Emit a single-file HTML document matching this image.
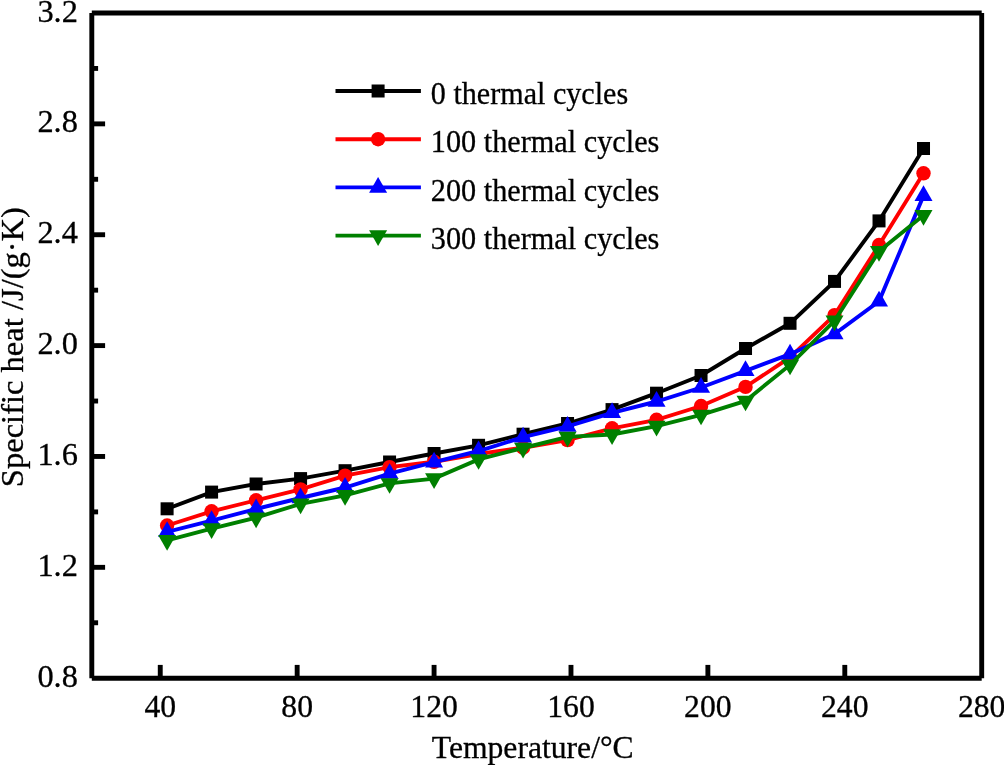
<!DOCTYPE html>
<html><head><meta charset="utf-8"><style>
html,body{margin:0;padding:0;background:#fff;}
body{width:1004px;height:765px;overflow:hidden;font-family:"Liberation Serif",serif;}
svg{display:block;will-change:transform;}
text{stroke:#000;stroke-width:0.3px;}
</style></head><body>
<svg width="1004" height="765" viewBox="0 0 1004 765">
<rect width="1004" height="765" fill="#fff"/>
<g stroke="#000" stroke-width="4.9" fill="none"><line x1="91.8" y1="13.0" x2="91.8" y2="678.2"/><line x1="91.8" y1="678.2" x2="981.7" y2="678.2"/><line x1="981.7" y1="678.2" x2="981.7" y2="13.0"/><line x1="981.7" y1="13.0" x2="91.8" y2="13.0"/></g><g stroke="#000" stroke-width="4.9"><line x1="160.25" y1="678.2" x2="160.25" y2="664.9"/><line x1="297.16" y1="678.2" x2="297.16" y2="664.9"/><line x1="434.07" y1="678.2" x2="434.07" y2="664.9"/><line x1="570.98" y1="678.2" x2="570.98" y2="664.9"/><line x1="707.88" y1="678.2" x2="707.88" y2="664.9"/><line x1="844.79" y1="678.2" x2="844.79" y2="664.9"/><line x1="91.8" y1="622.77" x2="98.1" y2="622.77"/><line x1="91.8" y1="567.33" x2="105.1" y2="567.33"/><line x1="91.8" y1="511.9" x2="98.1" y2="511.9"/><line x1="91.8" y1="456.47" x2="105.1" y2="456.47"/><line x1="91.8" y1="401.03" x2="98.1" y2="401.03"/><line x1="91.8" y1="345.6" x2="105.1" y2="345.6"/><line x1="91.8" y1="290.17" x2="98.1" y2="290.17"/><line x1="91.8" y1="234.73" x2="105.1" y2="234.73"/><line x1="91.8" y1="179.3" x2="98.1" y2="179.3"/><line x1="91.8" y1="123.87" x2="105.1" y2="123.87"/><line x1="91.8" y1="68.43" x2="98.1" y2="68.43"/></g><g font-family="Liberation Serif" font-size="31.7" fill="#000"><text x="77.9" y="686.8" text-anchor="end" font-size="32.4">0.8</text><text x="77.9" y="575.93" text-anchor="end" font-size="32.4">1.2</text><text x="77.9" y="465.07" text-anchor="end" font-size="32.4">1.6</text><text x="77.9" y="354.2" text-anchor="end" font-size="32.4">2.0</text><text x="77.9" y="243.33" text-anchor="end" font-size="32.4">2.4</text><text x="77.9" y="132.47" text-anchor="end" font-size="32.4">2.8</text><text x="77.9" y="21.6" text-anchor="end" font-size="32.4">3.2</text><text x="160.25" y="716.8" text-anchor="middle">40</text><text x="297.16" y="716.8" text-anchor="middle">80</text><text x="434.07" y="716.8" text-anchor="middle">120</text><text x="570.98" y="716.8" text-anchor="middle">160</text><text x="707.88" y="716.8" text-anchor="middle">200</text><text x="844.79" y="716.8" text-anchor="middle">240</text><text x="981.7" y="716.8" text-anchor="middle">280</text></g><text x="431.8" y="758" textLength="201.9" lengthAdjust="spacingAndGlyphs" font-family="Liberation Serif" font-size="31.7">Temperature/°C</text><text transform="translate(23 487.15) rotate(-90)" x="0" y="0" textLength="280.1" lengthAdjust="spacingAndGlyphs" font-family="Liberation Serif" font-size="31.7">Specific heat /J/(g·K)</text><g><polyline points="167.1,508.8 211.59,492.1 256.09,484 300.58,478.6 345.08,470.7 389.57,462 434.07,453.5 478.56,445.3 523.06,434.2 567.55,423.5 612.05,409.6 656.54,393.2 701.04,375.5 745.53,348.5 790.03,323.3 834.52,281.4 879.02,220.9 923.51,148.5" fill="none" stroke="#000000" stroke-width="3.9" stroke-linejoin="miter"/><rect x="160.6" y="502.3" width="13" height="13" fill="#000000"/><rect x="205.09" y="485.6" width="13" height="13" fill="#000000"/><rect x="249.59" y="477.5" width="13" height="13" fill="#000000"/><rect x="294.08" y="472.1" width="13" height="13" fill="#000000"/><rect x="338.58" y="464.2" width="13" height="13" fill="#000000"/><rect x="383.07" y="455.5" width="13" height="13" fill="#000000"/><rect x="427.57" y="447" width="13" height="13" fill="#000000"/><rect x="472.06" y="438.8" width="13" height="13" fill="#000000"/><rect x="516.56" y="427.7" width="13" height="13" fill="#000000"/><rect x="561.05" y="417" width="13" height="13" fill="#000000"/><rect x="605.55" y="403.1" width="13" height="13" fill="#000000"/><rect x="650.04" y="386.7" width="13" height="13" fill="#000000"/><rect x="694.54" y="369" width="13" height="13" fill="#000000"/><rect x="739.03" y="342" width="13" height="13" fill="#000000"/><rect x="783.53" y="316.8" width="13" height="13" fill="#000000"/><rect x="828.02" y="274.9" width="13" height="13" fill="#000000"/><rect x="872.52" y="214.4" width="13" height="13" fill="#000000"/><rect x="917.01" y="142" width="13" height="13" fill="#000000"/></g><g><polyline points="167.1,525.5 211.59,511.3 256.09,500.3 300.58,489.4 345.08,475.6 389.57,467.1 434.07,461.8 478.56,454 523.06,447.7 567.55,440.1 612.05,428.3 656.54,419.8 701.04,406 745.53,386.9 790.03,357.5 834.52,315.1 879.02,245 923.51,173.3" fill="none" stroke="#ff0000" stroke-width="3.9" stroke-linejoin="miter"/><circle cx="167.1" cy="525.5" r="7.2" fill="#ff0000"/><circle cx="211.59" cy="511.3" r="7.2" fill="#ff0000"/><circle cx="256.09" cy="500.3" r="7.2" fill="#ff0000"/><circle cx="300.58" cy="489.4" r="7.2" fill="#ff0000"/><circle cx="345.08" cy="475.6" r="7.2" fill="#ff0000"/><circle cx="389.57" cy="467.1" r="7.2" fill="#ff0000"/><circle cx="434.07" cy="461.8" r="7.2" fill="#ff0000"/><circle cx="478.56" cy="454" r="7.2" fill="#ff0000"/><circle cx="523.06" cy="447.7" r="7.2" fill="#ff0000"/><circle cx="567.55" cy="440.1" r="7.2" fill="#ff0000"/><circle cx="612.05" cy="428.3" r="7.2" fill="#ff0000"/><circle cx="656.54" cy="419.8" r="7.2" fill="#ff0000"/><circle cx="701.04" cy="406" r="7.2" fill="#ff0000"/><circle cx="745.53" cy="386.9" r="7.2" fill="#ff0000"/><circle cx="790.03" cy="357.5" r="7.2" fill="#ff0000"/><circle cx="834.52" cy="315.1" r="7.2" fill="#ff0000"/><circle cx="879.02" cy="245" r="7.2" fill="#ff0000"/><circle cx="923.51" cy="173.3" r="7.2" fill="#ff0000"/></g><g><polyline points="167.1,531.8 211.59,520.6 256.09,509 300.58,498 345.08,487.5 389.57,473.6 434.07,462.2 478.56,451 523.06,437.2 567.55,426.4 612.05,412.8 656.54,401.5 701.04,387.5 745.53,370.8 790.03,354.2 834.52,334 879.02,301.2 923.51,195.7" fill="none" stroke="#0000ff" stroke-width="3.9" stroke-linejoin="miter"/><path d="M167.1 521.33L176.1 537.03L158.1 537.03Z" fill="#0000ff"/><path d="M211.59 510.13L220.59 525.83L202.59 525.83Z" fill="#0000ff"/><path d="M256.09 498.53L265.09 514.23L247.09 514.23Z" fill="#0000ff"/><path d="M300.58 487.53L309.58 503.23L291.58 503.23Z" fill="#0000ff"/><path d="M345.08 477.03L354.08 492.73L336.08 492.73Z" fill="#0000ff"/><path d="M389.57 463.13L398.57 478.83L380.57 478.83Z" fill="#0000ff"/><path d="M434.07 451.73L443.07 467.43L425.07 467.43Z" fill="#0000ff"/><path d="M478.56 440.53L487.56 456.23L469.56 456.23Z" fill="#0000ff"/><path d="M523.06 426.73L532.06 442.43L514.06 442.43Z" fill="#0000ff"/><path d="M567.55 415.93L576.55 431.63L558.55 431.63Z" fill="#0000ff"/><path d="M612.05 402.33L621.05 418.03L603.05 418.03Z" fill="#0000ff"/><path d="M656.54 391.03L665.54 406.73L647.54 406.73Z" fill="#0000ff"/><path d="M701.04 377.03L710.04 392.73L692.04 392.73Z" fill="#0000ff"/><path d="M745.53 360.33L754.53 376.03L736.53 376.03Z" fill="#0000ff"/><path d="M790.03 343.73L799.03 359.43L781.03 359.43Z" fill="#0000ff"/><path d="M834.52 323.53L843.52 339.23L825.52 339.23Z" fill="#0000ff"/><path d="M879.02 290.73L888.02 306.43L870.02 306.43Z" fill="#0000ff"/><path d="M923.51 185.23L932.51 200.93L914.51 200.93Z" fill="#0000ff"/></g><g><polyline points="167.1,540.3 211.59,528.6 256.09,517.7 300.58,503.8 345.08,495.3 389.57,483.4 434.07,478.6 478.56,459.4 523.06,448 567.55,436.9 612.05,434.5 656.54,426.1 701.04,414.9 745.53,400.9 790.03,364.9 834.52,320.8 879.02,251.3 923.51,215.3" fill="none" stroke="#008000" stroke-width="3.9" stroke-linejoin="miter"/><path d="M158.1 535.07L176.1 535.07L167.1 550.77Z" fill="#008000"/><path d="M202.59 523.37L220.59 523.37L211.59 539.07Z" fill="#008000"/><path d="M247.09 512.47L265.09 512.47L256.09 528.17Z" fill="#008000"/><path d="M291.58 498.57L309.58 498.57L300.58 514.27Z" fill="#008000"/><path d="M336.08 490.07L354.08 490.07L345.08 505.77Z" fill="#008000"/><path d="M380.57 478.17L398.57 478.17L389.57 493.87Z" fill="#008000"/><path d="M425.07 473.37L443.07 473.37L434.07 489.07Z" fill="#008000"/><path d="M469.56 454.17L487.56 454.17L478.56 469.87Z" fill="#008000"/><path d="M514.06 442.77L532.06 442.77L523.06 458.47Z" fill="#008000"/><path d="M558.55 431.67L576.55 431.67L567.55 447.37Z" fill="#008000"/><path d="M603.05 429.27L621.05 429.27L612.05 444.97Z" fill="#008000"/><path d="M647.54 420.87L665.54 420.87L656.54 436.57Z" fill="#008000"/><path d="M692.04 409.67L710.04 409.67L701.04 425.37Z" fill="#008000"/><path d="M736.53 395.67L754.53 395.67L745.53 411.37Z" fill="#008000"/><path d="M781.03 359.67L799.03 359.67L790.03 375.37Z" fill="#008000"/><path d="M825.52 315.57L843.52 315.57L834.52 331.27Z" fill="#008000"/><path d="M870.02 246.07L888.02 246.07L879.02 261.77Z" fill="#008000"/><path d="M914.51 210.07L932.51 210.07L923.51 225.77Z" fill="#008000"/></g><g><line x1="335.5" y1="91" x2="420.9" y2="91" stroke="#000000" stroke-width="3.9"/><rect x="371.6" y="84.5" width="13" height="13" fill="#000000"/><text x="430.8" y="104.1" textLength="197.4" lengthAdjust="spacingAndGlyphs" font-family="Liberation Serif" font-size="31.7">0 thermal cycles</text><line x1="335.5" y1="139.2" x2="420.9" y2="139.2" stroke="#ff0000" stroke-width="3.9"/><circle cx="378.1" cy="139.2" r="7.2" fill="#ff0000"/><text x="430.8" y="152.4" textLength="228.6" lengthAdjust="spacingAndGlyphs" font-family="Liberation Serif" font-size="31.7">100 thermal cycles</text><line x1="335.5" y1="187.4" x2="420.9" y2="187.4" stroke="#0000ff" stroke-width="3.9"/><path d="M378.1 176.93L387.1 192.63L369.1 192.63Z" fill="#0000ff"/><text x="430.8" y="200.7" textLength="228.6" lengthAdjust="spacingAndGlyphs" font-family="Liberation Serif" font-size="31.7">200 thermal cycles</text><line x1="335.5" y1="235.6" x2="420.9" y2="235.6" stroke="#008000" stroke-width="3.9"/><path d="M369.1 230.37L387.1 230.37L378.1 246.07Z" fill="#008000"/><text x="430.8" y="249" textLength="228.6" lengthAdjust="spacingAndGlyphs" font-family="Liberation Serif" font-size="31.7">300 thermal cycles</text></g>
</svg>
</body></html>
